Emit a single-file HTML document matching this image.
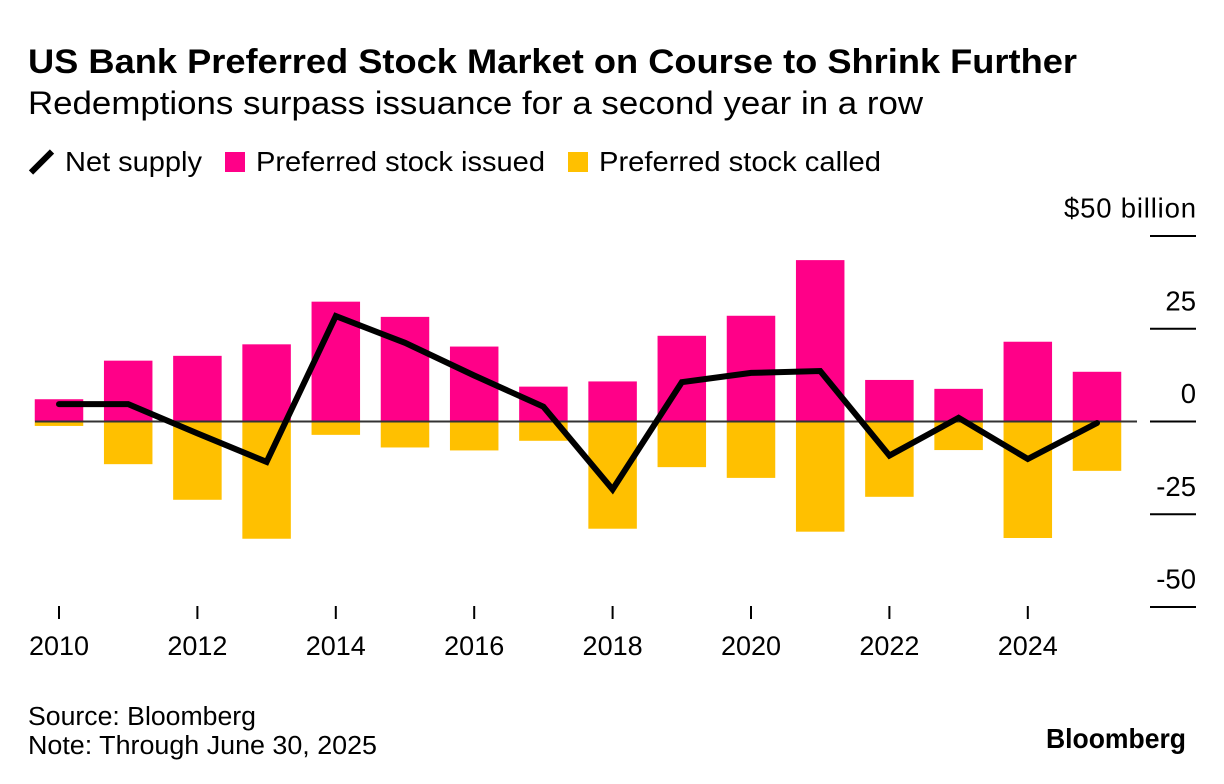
<!DOCTYPE html>
<html lang="en">
<head>
<meta charset="utf-8">
<title>US Bank Preferred Stock Market on Course to Shrink Further</title>
<style>
html,body{margin:0;padding:0;background:#fff;}
#stage{position:relative;width:1224px;height:784px;overflow:hidden;background:#fff;font-family:"Liberation Sans",sans-serif;color:#000;}
svg{display:block;}
text{font-family:"Liberation Sans",sans-serif;fill:#000;}
</style>
</head>
<body>
<div id="stage">
<svg id="chart" width="1224" height="784" viewBox="0 0 1224 784">
  <text x="28" y="73" font-size="34.5" font-weight="700" textLength="1049" lengthAdjust="spacingAndGlyphs">US Bank Preferred Stock Market on Course to Shrink Further</text>
  <text x="28" y="114" font-size="32" textLength="895" lengthAdjust="spacingAndGlyphs">Redemptions surpass issuance for a second year in a row</text>

  <g>
    <line x1="31" y1="172.5" x2="52" y2="151.5" stroke="#000" stroke-width="6"/>
    <text x="65" y="171" font-size="28" textLength="137" lengthAdjust="spacingAndGlyphs">Net supply</text>
    <rect x="225" y="152" width="20" height="20" fill="#ff0088"/>
    <text x="256" y="171" font-size="28" textLength="289" lengthAdjust="spacingAndGlyphs">Preferred stock issued</text>
    <rect x="568" y="152" width="20" height="20" fill="#ffc000"/>
    <text x="599" y="171" font-size="28" textLength="282" lengthAdjust="spacingAndGlyphs">Preferred stock called</text>
  </g>

  <g id="bars"></g>
  <g id="axes"></g>
  <path id="net-line" fill="none" stroke="#000" stroke-width="6" stroke-linejoin="miter" stroke-linecap="round"></path>

  <text x="28" y="725" font-size="25.5" textLength="228" lengthAdjust="spacingAndGlyphs">Source: Bloomberg</text>
  <text x="28" y="754" font-size="25.5" textLength="349" lengthAdjust="spacingAndGlyphs">Note: Through June 30, 2025</text>
  <text x="1046" y="748" font-size="28" font-weight="700" textLength="140" lengthAdjust="spacingAndGlyphs">Bloomberg</text>
</svg>
</div>
<script>
var years = [2010,2011,2012,2013,2014,2015,2016,2017,2018,2019,2020,2021,2022,2023,2024,2025];
var issued = [6.0,16.4,17.7,20.8,32.3,28.2,20.2,9.4,10.8,23.1,28.5,43.5,11.2,8.8,21.5,13.4];
var called = [-1.2,-11.5,-21.1,-31.6,-3.6,-7.0,-7.8,-5.2,-28.9,-12.3,-15.2,-29.7,-20.3,-7.7,-31.4,-13.3];
var net = [4.7,4.7,-3.2,-10.9,28.4,21.2,12.4,4.0,-18.3,10.6,13.1,13.6,-9.2,1.0,-10.1,-0.4];
var yTicks = [50,25,0,-25,-50];
var yTickLabels = ["$50 billion","25","0","-25","-50"];
var xTickYears = [2010,2012,2014,2016,2018,2020,2022,2024];

var NS = "http://www.w3.org/2000/svg";
function xScale(year){ return 59 + (year - 2010) * 69.2; }
function yScale(value){ return 421.5 - value * 3.71; }
function make(tag, attrs, parent){
  var el = document.createElementNS(NS, tag);
  for (var k in attrs) { el.setAttribute(k, attrs[k]); }
  parent.appendChild(el);
  return el;
}

var barsG = document.getElementById("bars");
var axesG = document.getElementById("axes");
var barWidth = 48.5;

years.forEach(function(year, i){
  var top = yScale(issued[i]);
  var a = make("rect", {x: xScale(year) - barWidth / 2, y: top, width: barWidth, height: yScale(0) - top, fill: "#ff0088"}, barsG);
  
  
  var bottom = yScale(called[i]);
  var b = make("rect", {x: xScale(year) - barWidth / 2, y: yScale(0), width: barWidth, height: bottom - yScale(0), fill: "#ffc000"}, barsG);
  
  
});

var zero = make("line", {x1: 35, x2: 1137, y1: yScale(0), y2: yScale(0), stroke: "#333", "stroke-width": 2}, axesG);



yTicks.forEach(function(v, i){
  var y = yScale(v);
  var tick = make("line", {x1: 1150, x2: 1196, y1: y, y2: y, stroke: "#000", "stroke-width": 2}, axesG);
  
  
  var label = make("text", {x: 1196, y: y - 18.5, "font-size": 27.5, "text-anchor": "end"}, axesG);
  if (i === 0) {
    label.setAttribute("textLength", 132);
    label.setAttribute("lengthAdjust", "spacing");
  }
  label.textContent = yTickLabels[i];
  
  
});

xTickYears.forEach(function(year){
  var x = xScale(year);
  var tick = make("line", {x1: x, x2: x, y1: 606, y2: 619, stroke: "#000", "stroke-width": 2}, axesG);
  
  
  var label = make("text", {x: x, y: 655, "font-size": 27, "text-anchor": "middle"}, axesG);
  label.textContent = String(year);
  
  
});

var d = years.map(function(year, i){
  return (i ? "L" : "M") + xScale(year).toFixed(1) + " " + yScale(net[i]).toFixed(1);
}).join(" ");
document.getElementById("net-line").setAttribute("d", d);
</script>
</body>
</html>
